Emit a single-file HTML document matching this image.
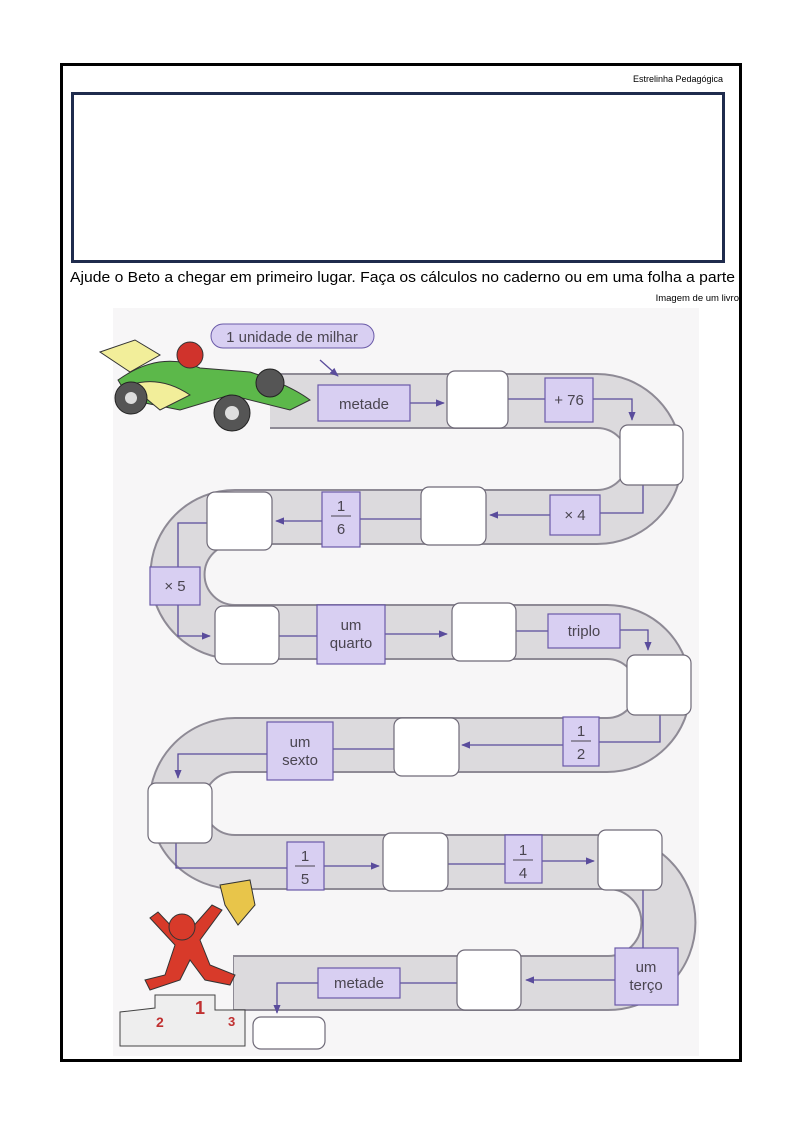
<!DOCTYPE html>
<html><head><meta charset="utf-8"><style>
html,body{margin:0;padding:0;background:#fff;}
svg{display:block;}
text{font-family:"Liberation Sans",sans-serif;}
</style></head><body>
<svg width="794" height="1123" viewBox="0 0 794 1123" xmlns="http://www.w3.org/2000/svg">
<defs>
<marker id="ar" viewBox="0 0 10 10" refX="9" refY="5" markerWidth="7" markerHeight="7" orient="auto"><path d="M0,1 L10,5 L0,9 z" fill="#5a4c9c"/></marker>
</defs>
<rect x="61.5" y="64.5" width="679" height="996" fill="#fff" stroke="#000" stroke-width="3"/>
<text x="723" y="82" font-size="9" text-anchor="end">Estrelinha Pedagógica</text>
<rect x="72.5" y="93.5" width="651" height="168" fill="#fff" stroke="#1f2b4d" stroke-width="3"/>
<text x="70" y="282" font-size="15" textLength="665" lengthAdjust="spacingAndGlyphs">Ajude o Beto a chegar em primeiro lugar. Faça os cálculos no caderno ou em uma folha a parte</text>
<text x="739" y="301" font-size="9.5" text-anchor="end">Imagem de um livro</text>
<rect x="113" y="308" width="586" height="748" fill="#f7f6f7"/>
<g fill="none" stroke-linejoin="round">
<path d="M270,401 L597,401 A58,58 0 0 1 597,517 L235,517 A57.5,57.5 0 0 0 235,632 L607,632 A56.5,56.5 0 0 1 607,745 L235,745 A58.5,58.5 0 0 0 235,862 L608,862 A60.5,60.5 0 0 1 608,983 L233,983" stroke="#8e8a95" stroke-width="56"/>
<path d="M270,401 L597,401 A58,58 0 0 1 597,517 L235,517 A57.5,57.5 0 0 0 235,632 L607,632 A56.5,56.5 0 0 1 607,745 L235,745 A58.5,58.5 0 0 0 235,862 L608,862 A60.5,60.5 0 0 1 608,983 L234,983" stroke="#dcdadd" stroke-width="52"/>
</g>
<g stroke="#5a4c9c" stroke-width="1.3" fill="none">
<path d="M320,360 L338,376" marker-end="url(#ar)"/>
<path d="M410,403 L444,403" marker-end="url(#ar)"/>
<path d="M508,399 L545,399"/>
<path d="M593,399 L632,399 L632,420" marker-end="url(#ar)"/>
<path d="M643,485 L643,513 L600,513"/>
<path d="M550,515 L490,515" marker-end="url(#ar)"/>
<path d="M421,519 L360,519"/>
<path d="M322,521 L276,521" marker-end="url(#ar)"/>
<path d="M207,523 L178,523 L178,567"/>
<path d="M178,605 L178,636 L210,636" marker-end="url(#ar)"/>
<path d="M279,636 L317,636"/>
<path d="M385,634 L447,634" marker-end="url(#ar)"/>
<path d="M516,631 L548,631"/>
<path d="M620,630 L648,630 L648,650" marker-end="url(#ar)"/>
<path d="M660,715 L660,742 L599,742"/>
<path d="M563,745 L462,745" marker-end="url(#ar)"/>
<path d="M394,749 L333,749"/>
<path d="M267,754 L178,754 L178,778" marker-end="url(#ar)"/>
<path d="M176,843 L176,868 L287,868"/>
<path d="M324,866 L379,866" marker-end="url(#ar)"/>
<path d="M448,864 L505,864"/>
<path d="M542,861 L594,861" marker-end="url(#ar)"/>
<path d="M643,890 L643,948"/>
<path d="M615,980 L526,980" marker-end="url(#ar)"/>
<path d="M457,983 L400,983"/>
<path d="M318,983 L277,983 L277,1013" marker-end="url(#ar)"/>
</g>
<g fill="#fff" stroke="#6f6a78" stroke-width="1.2">
<rect x="447" y="371" width="61" height="57" rx="8"/>
<rect x="620" y="425" width="63" height="60" rx="8"/>
<rect x="421" y="487" width="65" height="58" rx="8"/>
<rect x="207" y="492" width="65" height="58" rx="8"/>
<rect x="215" y="606" width="64" height="58" rx="8"/>
<rect x="452" y="603" width="64" height="58" rx="8"/>
<rect x="627" y="655" width="64" height="60" rx="8"/>
<rect x="394" y="718" width="65" height="58" rx="8"/>
<rect x="148" y="783" width="64" height="60" rx="8"/>
<rect x="383" y="833" width="65" height="58" rx="8"/>
<rect x="598" y="830" width="64" height="60" rx="8"/>
<rect x="457" y="950" width="64" height="60" rx="8"/>
<rect x="253" y="1017" width="72" height="32" rx="8"/>
</g>
<g fill="#d8cff2" stroke="#6a5aa8" stroke-width="1.2">
<rect x="318" y="385" width="92" height="36"/>
<rect x="545" y="378" width="48" height="44"/>
<rect x="550" y="495" width="50" height="40"/>
<rect x="322" y="492" width="38" height="55"/>
<rect x="150" y="567" width="50" height="38"/>
<rect x="317" y="605" width="68" height="59"/>
<rect x="548" y="614" width="72" height="34"/>
<rect x="563" y="717" width="36" height="49"/>
<rect x="267" y="722" width="66" height="58"/>
<rect x="287" y="842" width="37" height="48"/>
<rect x="505" y="835" width="37" height="48"/>
<rect x="615" y="948" width="63" height="57"/>
<rect x="318" y="968" width="82" height="30"/>
</g>
<g font-size="15" fill="#4a4550" text-anchor="middle">
<text x="364" y="409">metade</text>
<text x="569" y="405">+ 76</text>
<text x="575" y="520">× 4</text>
<text x="341" y="511">1</text><line x1="331" y1="516" x2="351" y2="516" stroke="#4a4550"/><text x="341" y="534">6</text>
<text x="175" y="591">× 5</text>
<text x="351" y="630">um</text><text x="351" y="648">quarto</text>
<text x="584" y="636">triplo</text>
<text x="581" y="736">1</text><line x1="571" y1="741" x2="591" y2="741" stroke="#4a4550"/><text x="581" y="759">2</text>
<text x="300" y="747">um</text><text x="300" y="765">sexto</text>
<text x="305" y="861">1</text><line x1="295" y1="866" x2="315" y2="866" stroke="#4a4550"/><text x="305" y="884">5</text>
<text x="523" y="855">1</text><line x1="513" y1="860" x2="533" y2="860" stroke="#4a4550"/><text x="523" y="878">4</text>
<text x="646" y="972">um</text><text x="646" y="990">terço</text>
<text x="359" y="988">metade</text>
</g>
<rect x="211" y="324" width="163" height="24" rx="12" fill="#d8cff2" stroke="#6a5aa8"/>
<text x="292" y="342" font-size="15" fill="#4a4550" text-anchor="middle">1 unidade de milhar</text>
<g>
<path d="M100,352 L135,340 L160,355 L130,372 Z" fill="#f2ee9a" stroke="#333"/>
<path d="M118,380 Q160,350 200,368 L250,372 Q290,385 310,400 L290,410 L230,395 L180,410 L130,400 Z" fill="#5cb84a" stroke="#333"/>
<path d="M130,385 Q160,375 190,395 L160,410 Z" fill="#f2ee9a" stroke="#333"/>
<circle cx="190" cy="355" r="13" fill="#d0332c" stroke="#333"/>
<circle cx="131" cy="398" r="16" fill="#555" stroke="#222"/><circle cx="131" cy="398" r="6" fill="#ddd"/>
<circle cx="232" cy="413" r="18" fill="#555" stroke="#222"/><circle cx="232" cy="413" r="7" fill="#ddd"/>
<circle cx="270" cy="383" r="14" fill="#555" stroke="#222"/>
</g>
<g>
<path d="M150,918 L175,945 L165,975 L145,980 L150,990 L180,980 L190,960 L205,980 L230,985 L235,975 L210,965 L200,940 L222,910 L212,905 L190,930 L175,930 L158,912 Z" fill="#d83a2a" stroke="#333"/>
<circle cx="182" cy="927" r="13" fill="#d83a2a" stroke="#333"/>
<path d="M220,885 L250,880 L255,905 L238,925 L225,905 Z" fill="#e8c54a" stroke="#333"/>
</g>
<g fill="#eeeeee" stroke="#444">
<path d="M120,1012 L120,1046 L245,1046 L245,1010 L215,1010 L215,995 L155,995 L155,1008 Z"/>
</g>
<text x="156" y="1027" font-size="14" fill="#c03030" font-weight="bold">2</text>
<text x="195" y="1014" font-size="18" fill="#c03030" font-weight="bold">1</text>
<text x="228" y="1026" font-size="13" fill="#c03030" font-weight="bold">3</text>
</svg>
</body></html>
